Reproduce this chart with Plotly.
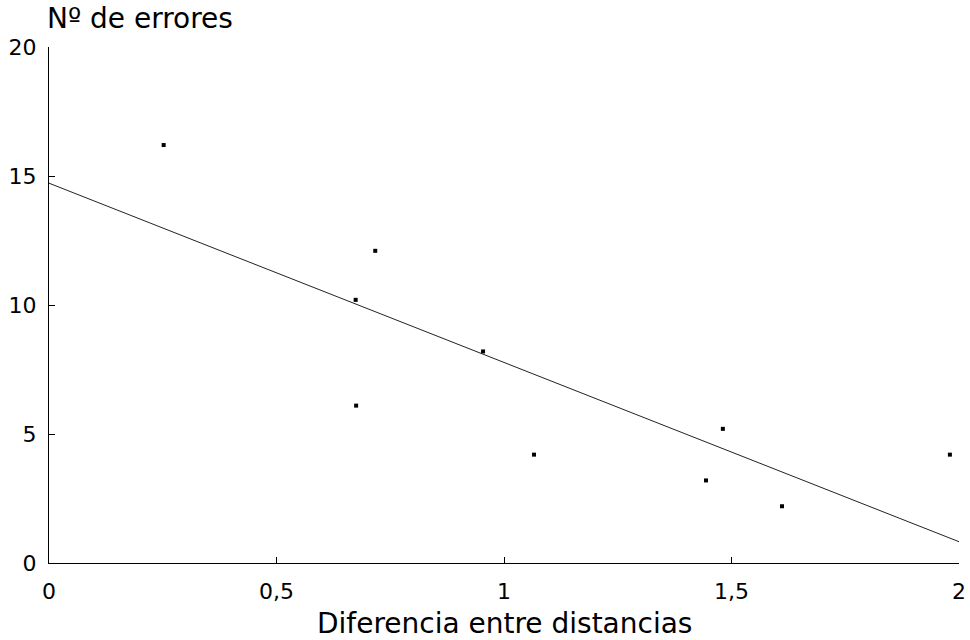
import numpy as np
import plotly.graph_objects as go

# Data
diferencia = [0.252, 0.717, 0.674, 0.675, 0.954, 1.066, 1.481, 1.444, 1.611, 1.980]
errores = [16.2, 12.1, 10.2, 6.1, 8.2, 4.2, 5.2, 3.2, 2.2, 4.2]

x_tickvals = [0, 0.5, 1, 1.5, 2]
x_ticktext = ["0", "0,5", "1", "1,5", "2"]
y_tickvals = [0, 5, 10, 15, 20]
y_ticktext = ["0", "5", "10", "15", "20"]

title_y = "Nº de errores"
title_x = "Diferencia entre distancias"

# Least-squares regression line over the x range
slope, intercept = np.polyfit(diferencia, errores, 1)
line_x = [x_tickvals[0], x_tickvals[-1]]
line_y = [intercept + slope * v for v in line_x]

FONT = "DejaVu Sans"

fig = go.Figure()
fig.add_trace(go.Scatter(x=line_x, y=line_y, mode="lines",
                         line=dict(color="#222222", width=1), showlegend=False,
                         hoverinfo="skip"))
fig.add_trace(go.Scatter(x=diferencia, y=errores, mode="markers",
                         marker=dict(symbol="square", size=4, color="black",
                                     line=dict(width=0)),
                         showlegend=False))

fig.update_layout(
    width=970, height=640,
    margin=dict(l=49, r=11, t=47, b=77, autoexpand=False),
    paper_bgcolor="white", plot_bgcolor="white",
    font=dict(family=FONT, color="black", size=22),
    separators=", ",
    xaxis=dict(range=[0, 2], tickvals=x_tickvals, ticktext=x_ticktext,
               showgrid=False, zeroline=False, showline=True,
               linecolor="black", linewidth=1, ticks="inside", ticklen=6,
               tickcolor="black", ticklabelstandoff=9, automargin=False,
               fixedrange=True),
    yaxis=dict(range=[0, 20], tickvals=y_tickvals, ticktext=y_ticktext,
               showgrid=False, zeroline=False, showline=True,
               linecolor="black", linewidth=1, ticks="inside", ticklen=6,
               tickcolor="black", ticklabelstandoff=7, automargin=False,
               fixedrange=True),
    annotations=[
        dict(text=title_y, xref="paper", yref="paper", x=0, y=1,
             xshift=-4, yshift=29, xanchor="left", yanchor="middle",
             showarrow=False, font=dict(family=FONT, size=28)),
        dict(text=title_x, xref="paper", yref="paper", x=0.5, y=0,
             yshift=-60, xanchor="center", yanchor="middle",
             showarrow=False, font=dict(family=FONT, size=28)),
    ],
)

# Remove the default page margin so the figure fills the window exactly
fig.write_html("out.html",
               config={"displayModeBar": False},
               post_script="document.body.style.margin='0';document.body.style.overflow='hidden';")
